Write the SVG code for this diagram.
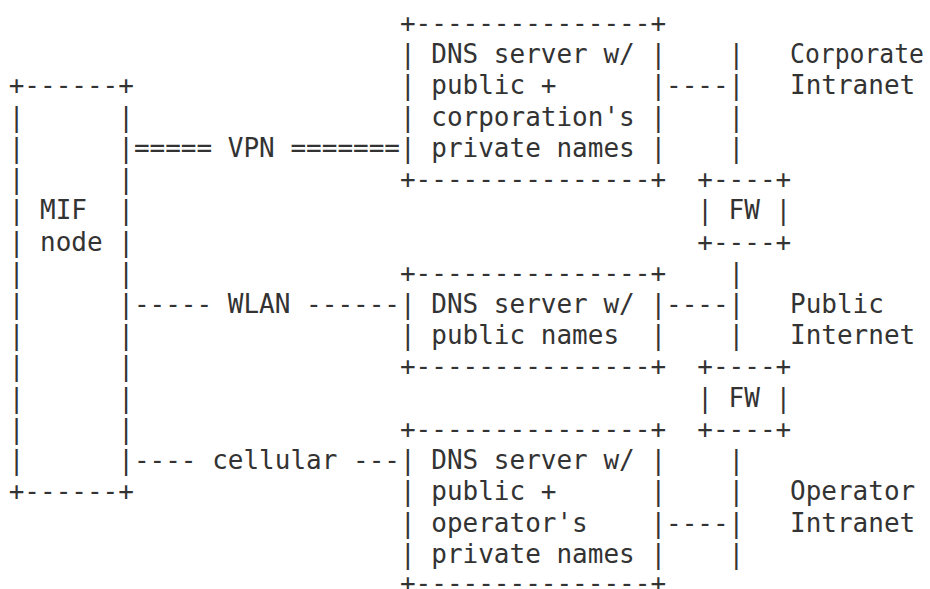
<svg xmlns="http://www.w3.org/2000/svg" width="930" height="589" viewBox="0 0 930 589" xml:space="preserve">
<style>
text { font-family: "DejaVu Sans Mono", "Liberation Mono", monospace; font-size: 26px; fill: #333333; white-space: pre; }
</style>
<rect x="0" y="0" width="930" height="589" fill="#ffffff"/>
<g id="mif-node">
<text x="8.7" y="94.44">+------+</text>
<text x="8.7" y="125.66">|      |</text>
<text x="8.7" y="156.88">|      |</text>
<text x="8.7" y="188.1">|      |</text>
<text x="8.7" y="219.32">| MIF  |</text>
<text x="8.7" y="250.54">| node |</text>
<text x="8.7" y="281.76">|      |</text>
<text x="8.7" y="312.98">|      |</text>
<text x="8.7" y="344.2">|      |</text>
<text x="8.7" y="375.42">|      |</text>
<text x="8.7" y="406.64">|      |</text>
<text x="8.7" y="437.86">|      |</text>
<text x="8.7" y="469.08">|      |</text>
<text x="8.7" y="500.3">+------+</text>
</g>
<g id="dns-corporate">
<text x="399.95" y="32">+---------------+</text>
<text x="399.95" y="63.22">| DNS server w/ |</text>
<text x="399.95" y="94.44">| public +      |</text>
<text x="399.95" y="125.66">| corporation's |</text>
<text x="399.95" y="156.88">| private names |</text>
<text x="399.95" y="188.1">+---------------+</text>
</g>
<g id="dns-public">
<text x="399.95" y="281.76">+---------------+</text>
<text x="399.95" y="312.98">| DNS server w/ |</text>
<text x="399.95" y="344.2">| public names  |</text>
<text x="399.95" y="375.42">+---------------+</text>
</g>
<g id="dns-operator">
<text x="399.95" y="437.86">+---------------+</text>
<text x="399.95" y="469.08">| DNS server w/ |</text>
<text x="399.95" y="500.3">| public +      |</text>
<text x="399.95" y="531.52">| operator's    |</text>
<text x="399.95" y="562.74">| private names |</text>
<text x="399.95" y="591.5">+---------------+</text>
</g>
<g id="fw-1">
<text x="697.3" y="188.1">+----+</text>
<text x="697.3" y="219.32">| FW |</text>
<text x="697.3" y="250.54">+----+</text>
</g>
<g id="fw-2">
<text x="697.3" y="375.42">+----+</text>
<text x="697.3" y="406.64">| FW |</text>
<text x="697.3" y="437.86">+----+</text>
</g>
<g id="corporate-intranet">
<text x="790" y="63.22" textLength="134" lengthAdjust="spacingAndGlyphs">Corporate</text>
<text x="790" y="94.44">Intranet</text>
</g>
<g id="public-internet">
<text x="790" y="312.98">Public</text>
<text x="790" y="344.2">Internet</text>
</g>
<g id="operator-intranet">
<text x="790" y="500.3">Operator</text>
<text x="790" y="531.52">Intranet</text>
</g>
<g id="connectors">
<text x="133.9" y="156.88">===== VPN =======</text>
<text x="133.9" y="312.98">----- WLAN ------</text>
<text x="133.9" y="469.08">---- cellular ---</text>
<text x="728.6" y="63.22">|</text>
<text x="666" y="94.44">----|</text>
<text x="728.6" y="125.66">|</text>
<text x="728.6" y="156.88">|</text>
<text x="728.6" y="281.76">|</text>
<text x="666" y="312.98">----|</text>
<text x="728.6" y="344.2">|</text>
<text x="728.6" y="469.08">|</text>
<text x="728.6" y="500.3">|</text>
<text x="666" y="531.52">----|</text>
<text x="728.6" y="562.74">|</text>
</g>
</svg>
